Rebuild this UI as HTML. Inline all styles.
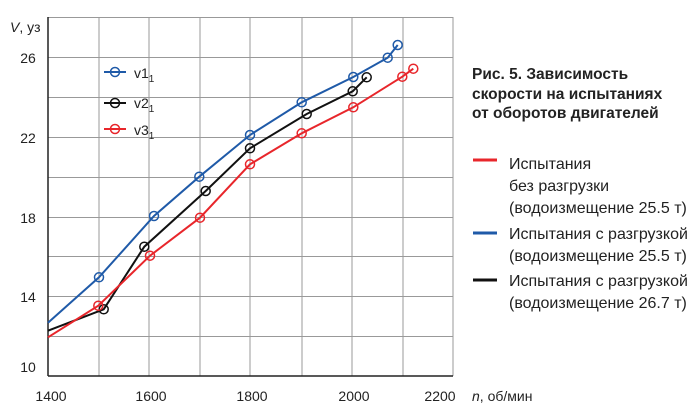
<!DOCTYPE html>
<html><head><meta charset="utf-8"><style>
body{margin:0;background:#fff;}
svg{display:block;font-family:"Liberation Sans","DejaVu Sans",sans-serif;}
</style></head><body>
<svg width="700" height="420" viewBox="0 0 700 420">
<g stroke="#999" stroke-width="1">
<line x1="99" y1="17" x2="99" y2="376"/><line x1="149" y1="17" x2="149" y2="376"/>
<line x1="200" y1="17" x2="200" y2="376"/><line x1="250" y1="17" x2="250" y2="376"/>
<line x1="302" y1="17" x2="302" y2="376"/><line x1="352" y1="17" x2="352" y2="376"/>
<line x1="403" y1="17" x2="403" y2="376"/><line x1="453" y1="17" x2="453" y2="376"/>
<line x1="48" y1="17.5" x2="453" y2="17.5"/><line x1="48" y1="57.5" x2="453" y2="57.5"/>
<line x1="48" y1="97.5" x2="453" y2="97.5"/><line x1="48" y1="137.5" x2="453" y2="137.5"/>
<line x1="48" y1="177.5" x2="453" y2="177.5"/><line x1="48" y1="217.5" x2="453" y2="217.5"/>
<line x1="48" y1="256.5" x2="453" y2="256.5"/><line x1="48" y1="296.5" x2="453" y2="296.5"/>
<line x1="48" y1="336.5" x2="453" y2="336.5"/>
</g>
<g stroke="#222" stroke-width="1.5"><line x1="48" y1="17" x2="48" y2="376"/><line x1="48" y1="376" x2="453" y2="376"/></g>
<g font-size="14" fill="#222" text-anchor="middle">
<text x="28" y="63">26</text><text x="28" y="143">22</text><text x="28" y="223">18</text>
<text x="28" y="302">14</text><text x="28" y="372">10</text>
<text x="51" y="401">1400</text><text x="151" y="401">1600</text><text x="252" y="401">1800</text>
<text x="354" y="401">2000</text><text x="440" y="401">2200</text>
</g>
<text x="10" y="32" font-size="14" fill="#222"><tspan font-style="italic">V</tspan>, уз</text>
<text x="472" y="401" font-size="14" fill="#222"><tspan font-style="italic">n</tspan>, об/мин</text>
<g fill="none" stroke-width="2">
<polyline stroke="#1f5aa8" points="48,322.7 99,277.3 154,216 199.3,176.7 250,135 301.7,102.3 353.3,77 387.7,57.7 397.7,45"/>
<polyline stroke="#111" points="48,330.7 103.7,309.3 144.3,246.7 205.7,191 250,148.3 306.7,114 352.7,91.3 366.7,77.3"/>
<polyline stroke="#e8262b" points="48,337.3 98.3,305.7 150,255.7 200,217.7 250,164.3 301.7,133.3 353.3,107.3 402.3,76.7 413.3,68.7"/>
</g>
<g fill="none" stroke-width="1.5">
<g stroke="#1f5aa8"><circle cx="99" cy="277.3" r="4.5"/><circle cx="154" cy="216" r="4.5"/><circle cx="199.3" cy="176.7" r="4.5"/><circle cx="250" cy="135" r="4.5"/><circle cx="301.7" cy="102.3" r="4.5"/><circle cx="353.3" cy="77" r="4.5"/><circle cx="387.7" cy="57.7" r="4.5"/><circle cx="397.7" cy="45" r="4.5"/><line x1="104" y1="72" x2="126" y2="72" stroke-width="2"/><circle cx="115" cy="72" r="4.5"/></g>
<g stroke="#111"><circle cx="103.7" cy="309.3" r="4.5"/><circle cx="144.3" cy="246.7" r="4.5"/><circle cx="205.7" cy="191" r="4.5"/><circle cx="250" cy="148.3" r="4.5"/><circle cx="306.7" cy="114" r="4.5"/><circle cx="352.7" cy="91.3" r="4.5"/><circle cx="366.7" cy="77.3" r="4.5"/><line x1="104" y1="103" x2="126" y2="103" stroke-width="2"/><circle cx="115" cy="103" r="4.5"/></g>
<g stroke="#e8262b"><circle cx="98.3" cy="305.7" r="4.5"/><circle cx="150" cy="255.7" r="4.5"/><circle cx="200" cy="217.7" r="4.5"/><circle cx="250" cy="164.3" r="4.5"/><circle cx="301.7" cy="133.3" r="4.5"/><circle cx="353.3" cy="107.3" r="4.5"/><circle cx="402.3" cy="76.7" r="4.5"/><circle cx="413.3" cy="68.7" r="4.5"/><line x1="104" y1="129" x2="126" y2="129" stroke-width="2"/><circle cx="115" cy="129" r="4.5"/></g>
</g>
<g font-size="14" fill="#222">
<text x="134" y="78">v1<tspan font-size="10" dy="4">1</tspan></text>
<text x="134" y="108">v2<tspan font-size="10" dy="4">1</tspan></text>
<text x="134" y="135">v3<tspan font-size="10" dy="4">1</tspan></text>
</g>
<g font-size="15.5" font-weight="bold" fill="#222">
<text x="472" y="79">Рис. 5. Зависимость</text>
<text x="472" y="99">скорости на испытаниях</text>
<text x="472" y="118">от оборотов двигателей</text>
</g>
<g stroke-width="3">
<line x1="473" y1="160" x2="497" y2="160" stroke="#e8262b"/>
<line x1="473" y1="233" x2="497" y2="233" stroke="#1f5aa8"/>
<line x1="473" y1="280" x2="497" y2="280" stroke="#111"/>
</g>
<g font-size="16" fill="#222">
<text x="509" y="169">Испытания</text>
<text x="509" y="191">без разгрузки</text>
<text x="509" y="213">(водоизмещение 25.5 т)</text>
<text x="509" y="239">Испытания с разгрузкой</text>
<text x="509" y="261">(водоизмещение 25.5 т)</text>
<text x="509" y="286">Испытания с разгрузкой</text>
<text x="509" y="308">(водоизмещение 26.7 т)</text>
</g>
</svg>
</body></html>
